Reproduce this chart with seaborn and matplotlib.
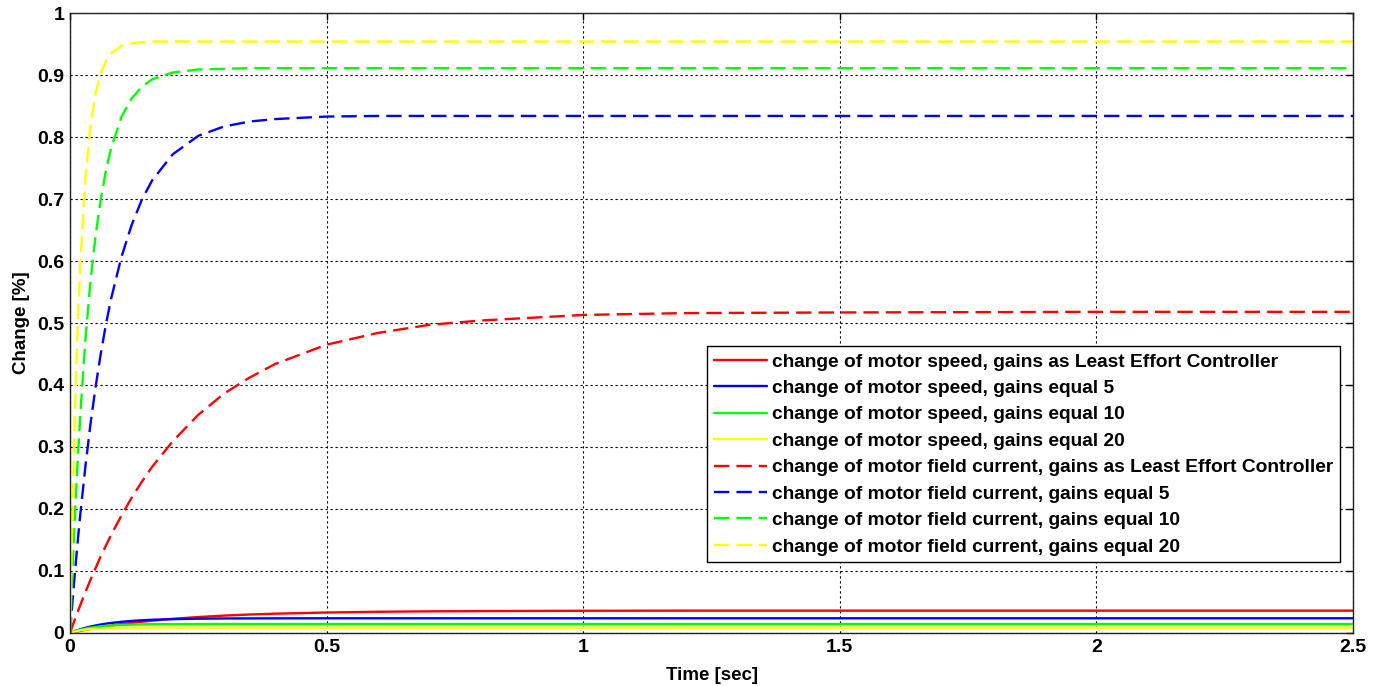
import matplotlib
matplotlib.use("Agg")
import matplotlib.pyplot as plt
import seaborn as sns

# Simulation time samples [sec]
time_s = [0, 0.005, 0.01, 0.015, 0.02, 0.03, 0.04, 0.05, 0.06, 0.07, 0.08,
          0.10, 0.12, 0.14, 0.16, 0.20, 0.25, 0.30, 0.35, 0.40, 0.50, 0.60,
          0.70, 0.80, 1.0, 1.2, 1.5, 2.0, 2.5]

# Change of motor speed
speed_lec = [0, 0.0009, 0.0018, 0.0026, 0.0034, 0.0050, 0.0065, 0.0080, 0.0093,
             0.0106, 0.0119, 0.0142, 0.0162, 0.0181, 0.0198, 0.0228, 0.0257,
             0.0280, 0.0298, 0.0311, 0.0330, 0.0342, 0.0349, 0.0353, 0.0358,
             0.0360, 0.0360, 0.0360, 0.0360]
speed_g5 = [0, 0.0016, 0.0032, 0.0046, 0.0059, 0.0083, 0.0103, 0.0121, 0.0137,
            0.0150, 0.0161, 0.0180, 0.0194, 0.0205, 0.0213, 0.0223, 0.0230,
            0.0234, 0.0235, 0.0236, 0.0237, 0.0237, 0.0237, 0.0237, 0.0237,
            0.0237, 0.0237, 0.0237, 0.0237]
speed_g10 = [0, 0.0015, 0.0029, 0.0041, 0.0052, 0.0071, 0.0085, 0.0097, 0.0107,
             0.0114, 0.0120, 0.0129, 0.0135, 0.0139, 0.0141, 0.0143, 0.0144,
             0.0145, 0.0145, 0.0145, 0.0145, 0.0145, 0.0145, 0.0145, 0.0145,
             0.0145, 0.0145, 0.0145, 0.0145]
speed_g20 = [0, 0.0013, 0.0024, 0.0034, 0.0042, 0.0054, 0.0063, 0.0070, 0.0074,
             0.0078, 0.0080, 0.0083, 0.0084, 0.0085, 0.0086, 0.0086, 0.0086,
             0.0086, 0.0086, 0.0086, 0.0086, 0.0086, 0.0086, 0.0086, 0.0086,
             0.0086, 0.0086, 0.0086, 0.0086]

# Change of motor field current
field_lec = [0, 0.012, 0.023, 0.034, 0.045, 0.066, 0.086, 0.105, 0.124, 0.141,
             0.158, 0.189, 0.218, 0.244, 0.268, 0.309, 0.352, 0.386, 0.412,
             0.434, 0.465, 0.484, 0.497, 0.504, 0.513, 0.516, 0.517, 0.518, 0.518]
field_g5 = [0, 0.053, 0.102, 0.148, 0.191, 0.269, 0.338, 0.398, 0.451, 0.498,
            0.539, 0.606, 0.658, 0.699, 0.730, 0.772, 0.802, 0.817, 0.825,
            0.829, 0.833, 0.834, 0.834, 0.834, 0.834, 0.834, 0.834, 0.834, 0.834]
field_g10 = [0, 0.105, 0.197, 0.279, 0.352, 0.473, 0.568, 0.642, 0.700, 0.746,
             0.782, 0.832, 0.862, 0.881, 0.893, 0.904, 0.909, 0.910, 0.911,
             0.911, 0.911, 0.911, 0.911, 0.911, 0.911, 0.911, 0.911, 0.911, 0.911]
field_g20 = [0, 0.206, 0.368, 0.495, 0.594, 0.733, 0.818, 0.871, 0.903, 0.923,
             0.935, 0.947, 0.951, 0.953, 0.954, 0.954, 0.954, 0.954, 0.954,
             0.954, 0.954, 0.954, 0.954, 0.954, 0.954, 0.954, 0.954, 0.954, 0.954]

labels = [
    "change of motor speed, gains as Least Effort Controller",
    "change of motor speed, gains equal 5",
    "change of motor speed, gains equal 10",
    "change of motor speed, gains equal 20",
    "change of motor field current, gains as Least Effort Controller",
    "change of motor field current, gains equal 5",
    "change of motor field current, gains equal 10",
    "change of motor field current, gains equal 20",
]
x_ticks = [0, 0.5, 1, 1.5, 2, 2.5]
x_tick_labels = ["0", "0.5", "1", "1.5", "2", "2.5"]
y_ticks = [0, 0.1, 0.2, 0.3, 0.4, 0.5, 0.6, 0.7, 0.8, 0.9, 1.0]
y_tick_labels = ["0", "0.1", "0.2", "0.3", "0.4", "0.5", "0.6", "0.7", "0.8", "0.9", "1"]

series = [speed_lec, speed_g5, speed_g10, speed_g20,
          field_lec, field_g5, field_g10, field_g20]
colors = ["#ff0000", "#0000ff", "#00ff00", "#ffff00"] * 2
dashed = [False] * 4 + [True] * 4

sns.set_style("white")
plt.rcParams["font.family"] = ["Liberation Sans", "DejaVu Sans"]
plt.rcParams["font.weight"] = "bold"
plt.rcParams["text.color"] = "black"
plt.rcParams["axes.labelcolor"] = "black"

fig = plt.figure(figsize=(13.84, 6.86), dpi=100)
ax = fig.add_axes([0.0506, 0.0773, 0.9270, 0.9037])

for vals, col, dsh, lab in zip(series, colors, dashed, labels):
    sns.lineplot(x=time_s, y=vals, color=col, linewidth=1.7, label=lab,
                 ax=ax, sort=False)
    if dsh:
        ax.lines[-1].set_dashes((6.5, 3))

ax.set_xlim(0, 2.5)
ax.set_ylim(0, 1)
ax.set_xticks(x_ticks)
ax.set_xticklabels(x_tick_labels)
ax.set_yticks(y_ticks)
ax.set_yticklabels(y_tick_labels)
ax.tick_params(direction="in", length=5, width=1, labelsize=14, colors="black",
               top=True, right=True, pad=4)
for lbl in ax.get_xticklabels() + ax.get_yticklabels():
    lbl.set_fontweight("bold")

ax.grid(True, color="black", linestyle=(0, (2, 2.5)), linewidth=0.8)
ax.set_axisbelow(True)
for sp in ax.spines.values():
    sp.set_color("#222222")
    sp.set_linewidth(1.0)

ax.set_xlabel("Time [sec]", fontsize=13.5, fontweight="bold", labelpad=8)
ax.set_ylabel("Change [%]", fontsize=13.5, fontweight="bold", labelpad=5)

leg = ax.legend(loc="lower right", bbox_to_anchor=(0.99, 0.114),
                borderaxespad=0, fancybox=False, framealpha=1,
                edgecolor="black", handlelength=2.75, handletextpad=0.28,
                labelspacing=0.47, borderpad=0.35,
                prop={"size": 13.8, "weight": "bold"})
leg.get_frame().set_linewidth(1.0)
for txt in leg.get_texts():
    txt.set_color("black")

fig.savefig("out.png", dpi=100, facecolor="white")
